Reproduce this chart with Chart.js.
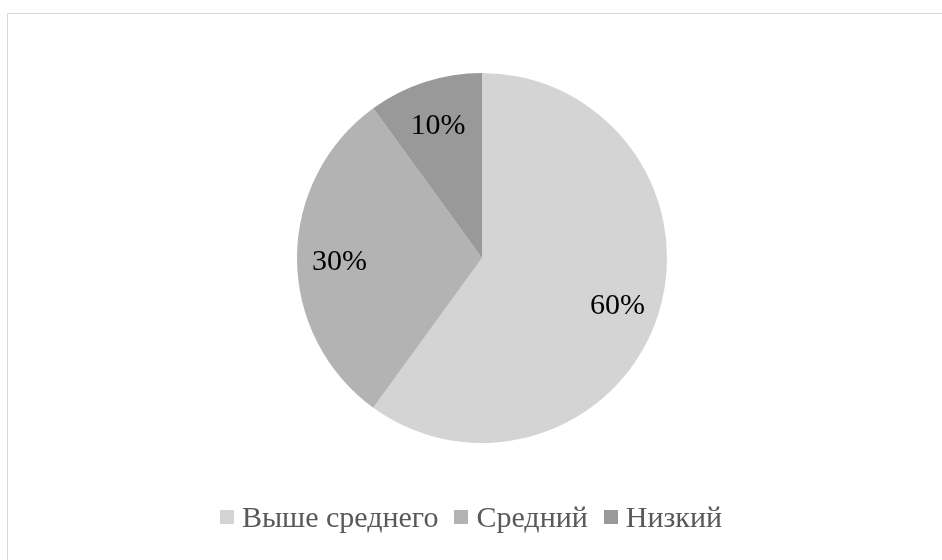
<!DOCTYPE html>
<html>
<head>
<meta charset="utf-8">
<script src="https://cdn.jsdelivr.net/npm/chart.js@4"></script>
<style>
    html, body { margin: 0; padding: 0; background: #fff; }
    #wrap {
        position: absolute; left: 0; top: 0; width: 942px; height: 560px; overflow: hidden;
    }
    #frame {
        position: absolute; left: 7px; top: 13px; width: 1000px; height: 600px;
        border-top: 1px solid #d9d9d9; border-left: 1px solid #d9d9d9;
    }
    #chart { position: absolute; left: 0; top: 0; }
    #legend {
        position: absolute; left: 0; top: 498px; width: 942px; height: 38px;
        display: flex; justify-content: center; align-items: center;
        font-family: "Liberation Serif", "Times New Roman", serif; font-size: 30px; color: #595959;
    }
    .item { display: flex; align-items: center; margin: 0 8px; }
    .box { width: 14px; height: 14px; margin-right: 8px; }
</style>
</head>
<body>
<div id="wrap">
    <div id="frame"></div>
    <canvas id="chart" width="942" height="560"></canvas>
    <div id="legend"></div>
</div>
<script>
    const categories = ['Выше среднего', 'Средний', 'Низкий'];
    const values = [60, 30, 10];
    const colors = ['#d4d4d4', '#b3b3b3', '#999999'];

    // Percent labels inside each slice
    const sliceLabels = {
        id: 'sliceLabels',
        afterDatasetsDraw(chart) {
            const ctx = chart.ctx;
            const meta = chart.getDatasetMeta(0);
            ctx.save();
            ctx.font = '30px "Liberation Serif", "Times New Roman", serif';
            ctx.fillStyle = '#000';
            ctx.textAlign = 'center';
            ctx.textBaseline = 'middle';
            meta.data.forEach(function (arc, i) {
                const mid = (arc.startAngle + arc.endAngle) / 2;
                const r = arc.outerRadius * 0.77;
                const x = arc.x + Math.cos(mid) * r;
                const y = arc.y + Math.sin(mid) * r + 4;
                ctx.fillText(values[i] + '%', x, y);
            });
            ctx.restore();
        }
    };

    const ctx = document.getElementById('chart').getContext('2d');
    new Chart(ctx, {
        type: 'pie',
        data: {
            labels: categories,
            datasets: [{
                data: values,
                backgroundColor: colors,
                borderWidth: 0
            }]
        },
        options: {
            responsive: false,
            animation: false,
            layout: {
                padding: { left: 297, right: 275, top: 73, bottom: 117 }
            },
            plugins: {
                legend: { display: false },
                tooltip: { enabled: false }
            }
        },
        plugins: [sliceLabels]
    });

    // Legend built from the same arrays
    const legend = document.getElementById('legend');
    categories.forEach(function (name, i) {
        const item = document.createElement('div');
        item.className = 'item';
        item.innerHTML = '<span class="box" style="background:' + colors[i] + '"></span><span>' + name + '</span>';
        legend.appendChild(item);
    });
</script>
</body>
</html>
